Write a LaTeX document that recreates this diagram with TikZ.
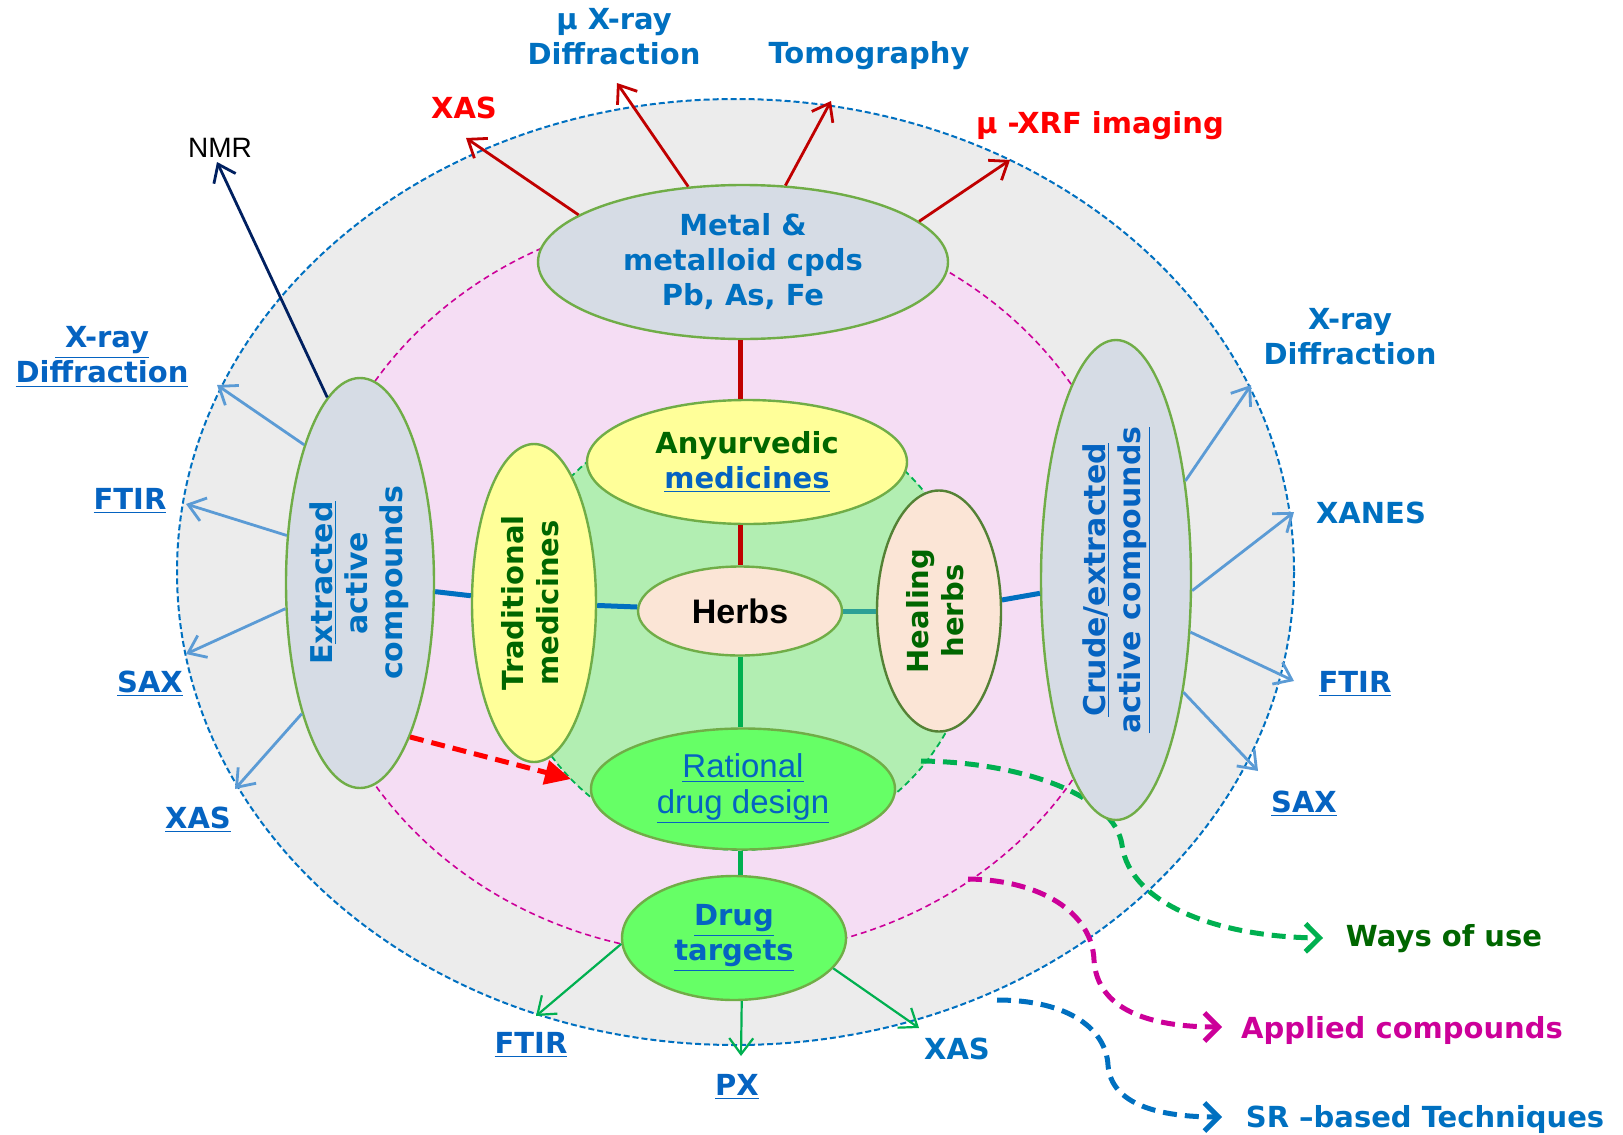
\documentclass[tikz,border=0pt]{standalone}
\usepackage{fontspec}
\setmainfont{DejaVu Sans}
\newfontfamily\arialfont{Liberation Sans}
\usepackage{graphicx}
\usepackage{tikz}
\usetikzlibrary{arrows.meta,shapes.geometric}

\definecolor{cRing}{RGB}{236,236,236}
\definecolor{cPink}{RGB}{245,221,244}
\definecolor{cGreenZone}{RGB}{178,238,178}
\definecolor{cEdge}{RGB}{112,173,71}
\definecolor{cDkEdge}{RGB}{84,130,53}
\definecolor{cGrayBlue}{RGB}{214,220,229}
\definecolor{cYellow}{RGB}{255,255,153}
\definecolor{cPeach}{RGB}{251,229,214}
\definecolor{cBright}{RGB}{102,255,102}
\definecolor{cBlue}{RGB}{0,112,192}
\definecolor{cLink}{RGB}{5,99,193}
\definecolor{cDkGreen}{RGB}{0,102,0}
\definecolor{cRed}{RGB}{255,0,0}
\definecolor{cDkRed}{RGB}{192,0,0}
\definecolor{cLtBlue}{RGB}{91,155,213}
\definecolor{cNavy}{RGB}{0,32,96}
\definecolor{cGreen}{RGB}{0,176,80}
\definecolor{cMagenta}{RGB}{204,0,153}
\definecolor{cTeal}{RGB}{45,160,150}

\newcommand{\diagfont}{\fontsize{14.5}{17.5}\selectfont\bfseries}
\newcommand{\vfont}{\fontsize{15}{17.5}\selectfont\bfseries}
\newcommand{\ratfont}{\arialfont\fontsize{16.5}{17.6}\selectfont}
\newcommand{\vtext}[1]{\makebox[0pt]{\rotatebox{90}{\begin{tabular}{@{}c@{}}#1\end{tabular}}}}

\begin{document}
\begin{tikzpicture}[x=0.5pt,y=-0.5pt,
  bubble/.style={ellipse,draw=cEdge,line width=1.2pt,inner sep=0pt,align=center,font=\diagfont},
  lbl/.style={inner sep=1pt,align=center,font=\diagfont},
  link/.style={line width=2.5pt},
  barb/.style={-{Straight Barb[length=8pt,width=12pt]},line width=1.4pt},
  legend/.style={line width=2.5pt,dash pattern=on 7pt off 4pt,-{Straight Barb[length=7pt,width=14pt]}}]
\useasboundingbox (0,0) rectangle (1623,1135);

% rings
\fill[cRing] (735.5,572) ellipse [x radius=558.5, y radius=473];
\draw[cBlue,line width=1pt,dash pattern=on 3pt off 1.5pt] (735.5,572) ellipse [x radius=558.5, y radius=473];
\fill[cPink] (722,583) ellipse [x radius=413, y radius=372];
\draw[cMagenta,line width=0.8pt,dash pattern=on 3pt off 2pt] (722,583) ellipse [x radius=413, y radius=372];
\fill[cGreenZone] (741,628) ellipse [x radius=232, y radius=222];
\draw[cGreen,line width=0.9pt,dash pattern=on 3pt off 2pt] (741,628) ellipse [x radius=232, y radius=222];

% legend curves
\coordinate (gstart) at (921,761);
\coordinate (gend) at (1323,938);
\coordinate (mstart) at (968,879);
\coordinate (mend) at (1222,1027);
\coordinate (bstart) at (997,1000);
\coordinate (bend) at (1222,1117);
\draw[legend,cGreen] (gstart) .. controls (1020,762) and (1115,795) .. (1122,845)
  .. controls (1130,905) and (1220,937) .. (gend);
\draw[legend,cMagenta] (mstart) .. controls (1040,880) and (1092,912) .. (1094,960)
  .. controls (1097,1010) and (1150,1027) .. (mend);
\draw[legend,cBlue] (bstart) .. controls (1070,1000) and (1106,1030) .. (1108,1065)
  .. controls (1111,1105) and (1160,1117) .. (bend);

% nodes
\node[bubble,fill=cGrayBlue,text=cBlue,minimum width=205pt,minimum height=77pt] (metal) at (743,262) {Metal \&\\metalloid cpds\\Pb, As, Fe};
\node[bubble,fill=cYellow,minimum width=160pt,minimum height=62pt] (ayur) at (747,462) {\textcolor{cDkGreen}{Anyurvedic}\\\textcolor{cLink}{\underline{medicines}}};
\node[bubble,fill=cPeach,font=\arialfont\fontsize{17}{19}\selectfont\bfseries,minimum width=102pt,minimum height=44.5pt] (herbs) at (740,611) {Herbs};
\node[bubble,fill=cYellow,text=cDkGreen,minimum width=62pt,minimum height=159pt] (trad) at (534,603) {\vtext{Traditional\\medicines}};
\node[bubble,draw=cDkEdge,fill=cPeach,text=cDkGreen,minimum width=62pt,minimum height=120.5pt] (heal) at (939,611) {\vtext{Healing\\herbs}};
\node[bubble,fill=cBright,font=\ratfont,text=cLink,minimum width=152pt,minimum height=60.5pt] (ratio) at (743,789) {\underline{Rational}\\\underline{drug design}};
\node[bubble,fill=cBright,text=cLink,minimum width=112pt,minimum height=62pt] (drug) at (734,938) {\underline{Drug}\\\underline{targets}};
\node[bubble,fill=cGrayBlue,font=\vfont,text=cBlue,minimum width=74pt,minimum height=205pt] (extr) at (360,583) {\vtext{E\underline{xtracted}\\active\\compounds}};
\node[bubble,fill=cGrayBlue,font=\vfont,text=cLink,minimum width=75pt,minimum height=240pt] (crude) at (1116,580) {\vtext{\underline{Crude}/\underline{extracted}\\\underline{active compounds}}};

% links between nodes
\draw[link,cDkRed] (metal.south -| herbs) -- (ayur.north -| herbs);
\draw[link,cDkRed] (ayur.south -| herbs) -- (herbs.north);
\draw[link,cGreen] (herbs.south) -- (ratio.north -| herbs);
\draw[link,cGreen] (ratio.south -| herbs) -- (drug.north -| herbs);
\draw[link,cBlue] (extr) -- (trad);
\draw[link,cBlue] (trad) -- (herbs);
\draw[link,cTeal] (herbs) -- (heal);
\draw[link,cBlue] (heal) -- (crude);

% labels
\node[lbl,text=cRed] (lxas) at (464,108) {XAS};
\node[lbl,text=cBlue] (lmxrd) at (614,37) {µ X-ray\\Diffraction};
\node[lbl,text=cBlue] (ltomo) at (869,56) {Tomography};
\node[lbl,text=cRed] (lxrf) at (1100,126) {µ -XRF imaging};
\node[inner sep=1pt,font=\arialfont\fontsize{14}{16}\selectfont] (lnmr) at (220,148) {NMR};
\node[lbl,text=cLink] (lxrdl) at (102,357) {\underline{~X-ray}\\\underline{Diffraction}};
\node[lbl,text=cLink] (lftirl) at (130,501) {\underline{FTIR}};
\node[lbl,text=cLink] (lsaxl) at (150,684) {\underline{SAX}};
\node[lbl,text=cLink] (lxasl) at (198,820) {\underline{XAS}};
\node[lbl,text=cBlue] (lxrdr) at (1350,337) {X-ray\\Diffraction};
\node[lbl,text=cBlue] (lxanes) at (1371,513) {XANES};
\node[lbl,text=cLink] (lftirr) at (1355,684) {\underline{FTIR}};
\node[lbl,text=cLink] (lsaxr) at (1304,804) {\underline{SAX}};
\node[lbl,text=cLink] (lftirb) at (531,1045) {\underline{FTIR}};
\node[lbl,text=cLink] (lpx) at (737,1087) {\underline{PX}};
\node[lbl,text=cBlue] (lxasb) at (957,1049) {XAS};
\node[lbl,text=cDkGreen] (lways) at (1444,939) {Ways of use};
\node[lbl,text=cMagenta] (lappl) at (1402,1030) {Applied compounds};
\node[lbl,text=cBlue] (lsr) at (1425,1119) {SR –based Techniques};

% arrow tips
\coordinate (txas) at (466,138);
\coordinate (tmxrd) at (617,83);
\coordinate (ttomo) at (831,101);
\coordinate (txrf) at (1010,160);
\coordinate (tnmr) at (217,162);
\coordinate (txrdl) at (217,385);
\coordinate (tftirl) at (186,504);
\coordinate (tsaxl) at (186,654);
\coordinate (txasl) at (235,789);
\coordinate (txrdr) at (1251,385);
\coordinate (txanes) at (1294,512);
\coordinate (tftirr) at (1294,681);
\coordinate (tsaxr) at (1258,771);
\coordinate (tftirb) at (536,1016);
\coordinate (tpx) at (741,1056);
\coordinate (txasb) at (919,1028);
\coordinate (tred) at (571,779);

% metal techniques
\draw[barb,cDkRed] (metal.164) -- (txas);
\draw[barb,cDkRed] (metal.126) -- (tmxrd);
\draw[barb,cDkRed] (metal.61) -- (ttomo);
\draw[barb,cDkRed] (metal.13) -- (txrf);

% extracted / crude techniques
\draw[barb,cNavy] (extr.100) -- (tnmr);
\draw[barb,cLtBlue] (extr.112) -- (txrdl);
\draw[barb,cLtBlue] (extr.147) -- (tftirl);
\draw[barb,cLtBlue] (extr.199) -- (tsaxl);
\draw[barb,cLtBlue] (extr.246) -- (txasl);
\draw[barb,cLtBlue] (crude.55) -- (txrdr);
\draw[barb,cLtBlue] (crude.352) -- (txanes);
\draw[barb,cLtBlue] (crude.325) -- (tftirr);
\draw[barb,cLtBlue] (crude.301) -- (tsaxr);

% drug target techniques
\draw[barb,cGreen,line width=1.1pt] (drug.183) -- (tftirb);
\draw[barb,cGreen,line width=1.1pt] (drug.277) -- (tpx);
\draw[barb,cGreen,line width=1.1pt] (drug.343) -- (txasb);

% extracted -> rational design
\draw[cRed,line width=2.5pt,dash pattern=on 7pt off 4pt,-{Triangle[length=13pt,width=12pt]}] (extr.288) -- (tred);
\end{tikzpicture}
\end{document}
